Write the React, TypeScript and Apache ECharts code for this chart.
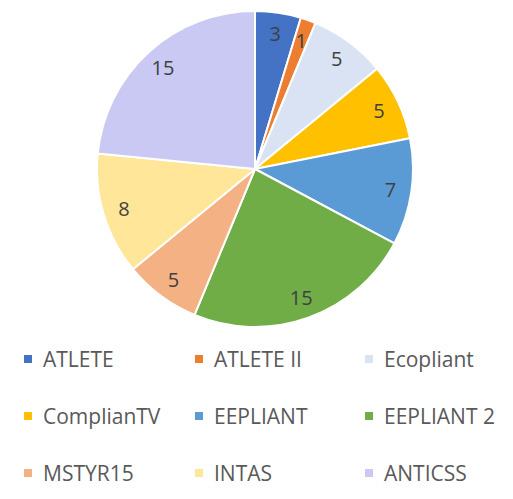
import React, { useEffect, useRef } from "react";
import * as echarts from "echarts";

const categories = ["ATLETE", "ATLETE II", "Ecopliant", "ComplianTV", "EEPLIANT", "EEPLIANT 2", "MSTYR15", "INTAS", "ANTICSS"];
const values = [3, 1, 5, 5, 7, 15, 5, 8, 15];
const colors = ["#4472C4", "#ED7D31", "#DAE3F3", "#FFC000", "#5B9BD5", "#70AD47", "#F4B183", "#FFE699", "#C9C9F4"];
const legendColumns = [
  ["ATLETE", "ComplianTV", "MSTYR15"],
  ["ATLETE II", "EEPLIANT", "INTAS"],
  ["Ecopliant", "EEPLIANT 2", "ANTICSS"],
];
const legendLefts = [22, 193, 363];

export default function App() {
  const ref = useRef<HTMLDivElement>(null);
  useEffect(() => {
    if (!ref.current) return;
    const chart = echarts.init(ref.current, undefined, { renderer: "svg" });
    const data = categories.map((name, i) => ({ name, value: values[i], itemStyle: { color: colors[i] } }));
    const font = "'Open Sans', sans-serif";
    chart.setOption({
      animation: false,
      backgroundColor: "#ffffff",
      legend: legendColumns.map((col, i) => ({
        orient: "vertical",
        left: legendLefts[i],
        top: 347,
        padding: 0,
        data: col,
        icon: "rect",
        itemWidth: 10,
        itemHeight: 10,
        itemGap: 33,
        selectedMode: false,
        textStyle: { fontFamily: font, fontSize: 21, color: "#595959", lineHeight: 24, padding: [0, 0, 0, 5] },
      })),
      series: [
        {
          type: "pie",
          center: [255, 169],
          radius: [0, 158],
          startAngle: 90,
          clockwise: true,
          data,
          label: { show: false },
          labelLine: { show: false },
          itemStyle: { borderColor: "#ffffff", borderWidth: 2 },
          emphasis: { disabled: true },
        },
        {
          type: "pie",
          center: [255, 169],
          radius: [110, 158],
          startAngle: 90,
          clockwise: true,
          silent: true,
          data: categories.map((name, i) => ({ name, value: values[i] })),
          itemStyle: { color: "rgba(0,0,0,0)" },
          label: { show: true, position: "inside", formatter: "{c}", fontFamily: font, fontSize: 20, color: "#404040" },
          labelLine: { show: false },
          emphasis: { disabled: true },
        },
      ],
    });
    return () => chart.dispose();
  }, []);
  return <div ref={ref} style={{ position: "fixed", left: 0, top: 0, width: 513, height: 499 }} />;
}
